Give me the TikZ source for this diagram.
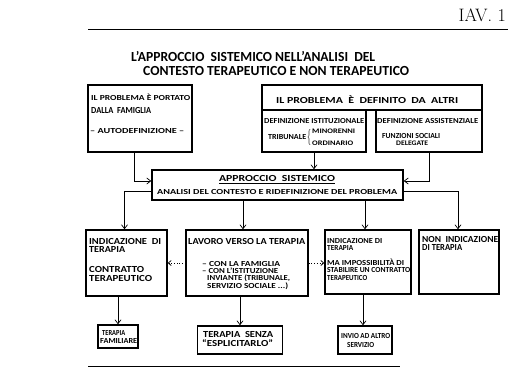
\documentclass[tikz,border=0pt]{standalone}
\usepackage{fontspec}
\usepackage{graphicx}
\newfontfamily\hand{Carlito}
\usetikzlibrary{arrows.meta}
% width, cap height, text
\newcommand{\fw}[3]{\resizebox{#1pt}{#2pt}{\hand\bfseries\smash{#3}\rule{0pt}{\fontcharht\font`X}}}
\begin{document}
\begin{tikzpicture}[x=1pt,y=-1pt,
  box/.style={draw, line width=1.4pt, inner sep=0pt},
  txt/.style={anchor=west, inner sep=0pt},
  ctxt/.style={anchor=center, inner sep=0pt},
  arr/.style={-{Straight Barb[length=4pt,width=6pt]}, line width=0.7pt},
  dotarr/.style={-{Straight Barb[length=3pt,width=5pt]}, line width=0.7pt, dotted},
  rule/.style={line width=1pt}
]
\useasboundingbox (0,0) rectangle (510,385);
% page header
\node[anchor=east, inner sep=0pt, font=\fontsize{18}{18}\selectfont] (tav) at (506,15) {IAV. 1};
\draw[rule] (88,30) -- (508,30);
\draw[rule] (88,366) -- (400,366);
% title
\node[txt] (t1) at (131,57) {\fw{244}{9}{L’APPROCCIO \ SISTEMICO NELL’ANALISI \ DEL}};
\node[txt] (t2) at (143,71) {\fw{266}{9}{CONTESTO TERAPEUTICO E NON TERAPEUTICO}};
% boxes
\node[box, minimum width=104, minimum height=67] (A) at (140,118.5) {};
\node[box, minimum width=220, minimum height=25] (B) at (372,97.5) {};
\node[box, minimum width=104, minimum height=42] (B1) at (314,131) {};
\node[box, minimum width=106, minimum height=42] (B2) at (429,131) {};
\node[box, minimum width=251, minimum height=30] (C) at (277.5,185) {};
\node[box, minimum width=81, minimum height=66] (D) at (126.5,263) {};
\node[box, minimum width=122, minimum height=66] (E) at (247,263) {};
\node[box, minimum width=86, minimum height=64] (F) at (368,262) {};
\node[box, minimum width=80, minimum height=64] (G) at (459,262) {};
\node[box, minimum width=40, minimum height=23] (H) at (118,336.5) {};
\node[box, minimum width=85, minimum height=28] (I) at (240,340) {};
\node[box, minimum width=54, minimum height=28] (J) at (365,340) {};
% texts box A
\node[txt] (a1) at (91,98) {\fw{99}{5}{IL PROBLEMA È PORTATO}};
\node[txt] (a2) at (91,110) {\fw{60}{6}{DALLA \ FAMIGLIA}};
\node[txt] (a3) at (90,131) {\fw{94}{5}{– AUTODEFINIZIONE –}};
% texts box B
\node[txt] (b0) at (276,100) {\fw{182}{6}{IL PROBLEMA \ È \ DEFINITO \ DA \ ALTRI}};
\node[txt] (b11) at (264,121) {\fw{100}{5}{DEFINIZIONE ISTITUZIONALE}};
\node[txt] (b12) at (268,137) {\fw{38}{5}{TRIBUNALE}};
\node[ctxt] (br) at (309,137) {\resizebox*{4pt}{16pt}{$\{$}};
\node[txt] (b13) at (312,131) {\fw{43}{4.5}{MINORENNI}};
\node[txt] (b14) at (312,143) {\fw{41}{4.5}{ORDINARIO}};
\node[txt] (b21) at (377,121) {\fw{101}{5}{DEFINIZIONE ASSISTENZIALE}};
\node[txt] (b22) at (382,136) {\fw{58}{5}{FUNZIONI SOCIALI}};
\node[txt] (b23) at (396,143) {\fw{32}{4.5}{DELEGATE}};
% texts box C
\node[ctxt] (c1) at (277,178) {\fw{116}{6}{APPROCCIO \ SISTEMICO}};
\draw[line width=0.8pt] ([yshift=-2.5]c1.south west) -- ([yshift=-2.5]c1.south east);
\node[txt] (c2) at (157,192) {\fw{240}{5}{ANALISI DEL CONTESTO E RIDEFINIZIONE DEL PROBLEMA}};
% texts box D
\node[txt] (d1) at (89,241) {\fw{72}{6}{INDICAZIONE \ DI}};
\node[txt] (d2) at (89,249) {\fw{36}{6}{TERAPIA}};
\node[txt] (d3) at (89,269) {\fw{55}{6}{CONTRATTO}};
\node[txt] (d4) at (89,278) {\fw{63}{6}{TERAPEUTICO}};
% texts box E
\node[txt] (e1) at (188,241) {\fw{117}{6}{LAVORO VERSO LA TERAPIA}};
\node[txt] (e2) at (202,264) {\fw{78}{5}{– CON LA FAMIGLIA}};
\node[txt] (e3) at (202,271) {\fw{76}{5}{– CON L’ISTITUZIONE}};
\node[txt] (e4) at (207,278) {\fw{83}{5}{INVIANTE (TRIBUNALE,}};
\node[txt] (e5) at (207,286) {\fw{81}{5}{SERVIZIO SOCIALE ...)}};
% texts box F
\node[txt] (f1) at (327,241) {\fw{55}{5}{INDICAZIONE DI}};
\node[txt] (f2) at (327,248) {\fw{26}{5}{TERAPIA}};
\node[txt] (f3) at (327,263) {\fw{77}{5}{MA IMPOSSIBILITÀ DI}};
\node[txt] (f4) at (327,270) {\fw{83}{5}{STABILIRE UN CONTRATTO}};
\node[txt] (f5) at (327,278) {\fw{40}{5}{TERAPEUTICO}};
% texts box G
\node[txt] (g1) at (422,239) {\fw{76}{6}{NON \ INDICAZIONE}};
\node[txt] (g2) at (422,247) {\fw{40}{6}{DI TERAPIA}};
% bottom texts
\node[txt] (h1) at (102,333) {\fw{23}{5}{TERAPIA}};
\node[txt] (h2) at (100,341) {\fw{37}{5}{FAMILIARE}};
\node[txt] (i1) at (203,334) {\fw{70}{6}{TERAPIA \ SENZA}};
\node[txt] (i2) at (202,343) {\fw{71}{6}{“ESPLICITARLO”}};
\node[txt] (j1) at (341,336) {\fw{49}{5}{INVIO AD ALTRO}};
\node[txt] (j2) at (347,345) {\fw{27}{5}{SERVIZIO}};
% connectors
\draw[arr] ([xshift=-6]A.south) |- ([yshift=4]C.west);
\draw[arr] (B2.south) |- ([yshift=4]C.east);
\draw[arr] (B1.south) -- (B1.south |- C.north);
\draw[arr] ([yshift=-6]C.west) -| ([xshift=-2]D.north);
\draw[arr] ([xshift=-4]E.north |- C.south) -- ([xshift=-4]E.north);
\draw[arr] ([xshift=-3]F.north |- C.south) -- ([xshift=-3]F.north);
\draw[arr] ([yshift=-6]C.east) -| ([xshift=-1]G.north);
\draw[dotarr] (E.west) -- (E.west -| D.east);
\draw[dotarr] (E.east) -- (E.east -| F.west);
\draw[arr] (H.north |- D.south) -- (H.north);
\draw[arr] (I.north |- E.south) -- (I.north);
\draw[arr] ([xshift=-2]J.north |- F.south) -- ([xshift=-2]J.north);
\end{tikzpicture}
\end{document}
